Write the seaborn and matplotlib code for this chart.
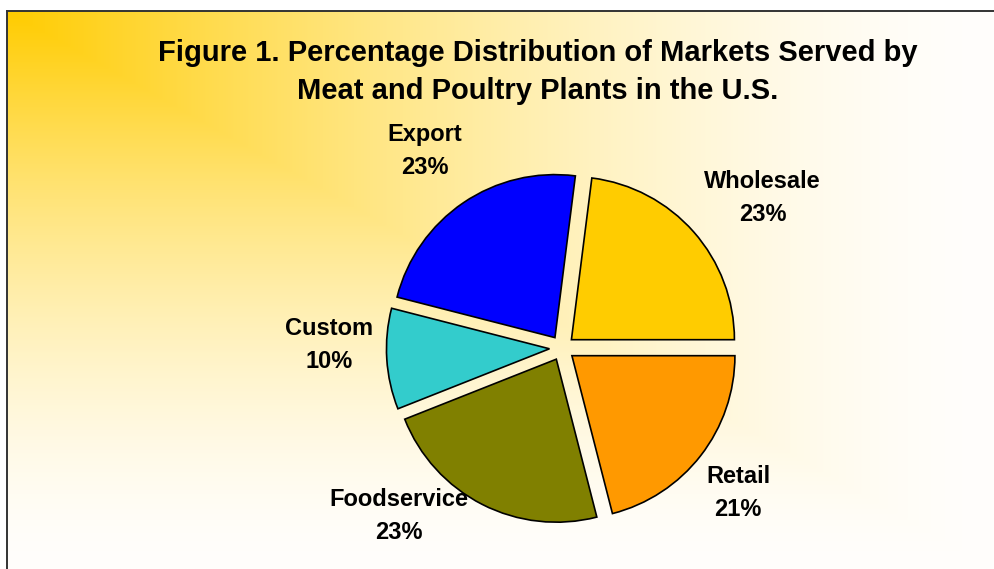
import numpy as np
import matplotlib
matplotlib.use("Agg")
import matplotlib.pyplot as plt
import seaborn as sns

# ---- data ----
categories = ["Wholesale", "Export", "Custom", "Foodservice", "Retail"]
percentages = [23, 23, 10, 23, 21]
slice_colors = ["#FFCC00", "#0000FF", "#33CCCC", "#808000", "#FF9900"]
title = "Figure 1. Percentage Distribution of Markets Served by\nMeat and Poultry Plants in the U.S."

sns.set_theme(style="white")
plt.rcParams['font.family'] = ['Liberation Sans', 'DejaVu Sans']

W, H = 994, 569
fig = plt.figure(figsize=(W / 100, H / 100), dpi=100)
fig.patch.set_facecolor("white")

# ---- background gradient panel inside frame (rectangular "from corner") ----
fx0, fy0 = 7, 11  # frame left / top in px
bg = fig.add_axes([fx0 / W, 0, 1 - fx0 / W, 1 - fy0 / H])
nx, ny = 500, 300
xx, yy = np.meshgrid(np.linspace(0, 1, nx), np.linspace(0, 1, ny))
t = np.maximum(xx, yy)
w = np.clip(1 - t, 0, 1) ** 1.6
gold = np.array([255, 204, 0]) / 255.0
white = np.array([255, 254, 252]) / 255.0
img = white[None, None, :] * (1 - w[..., None]) + gold[None, None, :] * w[..., None]
bg.imshow(img, extent=(0, 1, 0, 1), origin="upper", aspect="auto", interpolation="bilinear")
bg.set_xlim(0, 1)
bg.set_ylim(0, 1)
bg.set_xticks([])
bg.set_yticks([])
for s in ["right", "bottom"]:
    bg.spines[s].set_visible(False)
for s in ["left", "top"]:
    bg.spines[s].set_visible(True)
    bg.spines[s].set_color("#333333")
    bg.spines[s].set_linewidth(1.4)

# ---- pie ----
cx, cy, R = 562, 348, 163
half = 1.5 * R
ax = fig.add_axes([(cx - half) / W, 1 - (cy + half) / H, 2 * half / W, 2 * half / H])
ax.set_facecolor("none")
labels = [f"{c}\n{p}%" for c, p in zip(categories, percentages)]
wedges, texts = ax.pie(
    percentages,
    colors=slice_colors,
    startangle=0,
    counterclock=True,
    explode=[0.077] * len(percentages),
    labels=labels,
    labeldistance=1.42,
    wedgeprops=dict(edgecolor="black", linewidth=1.2),
    textprops=dict(fontsize=17, fontweight="bold", color="black",
                   ha="center", va="center", linespacing=1.55),
)
# label anchor positions (in pie-radius units), layout only
label_pos = [(1.23, 0.92), (-0.84, 1.21), (-1.43, 0.02), (-1.0, -1.03), (1.08, -0.89)]
for tx, pos in zip(texts, label_pos):
    tx.set_position(pos)
    tx.set_ha("center")
    tx.set_va("center")
ax.set_xlim(-1.5, 1.5)
ax.set_ylim(-1.5, 1.5)
ax.set_aspect("auto")
ax.axis("off")

# ---- title ----
fig.text(538 / W, 1 - 72 / H, title, ha="center", va="center",
         fontsize=21, fontweight="bold", color="black", linespacing=1.42)

fig.savefig("out.png", dpi=100)
